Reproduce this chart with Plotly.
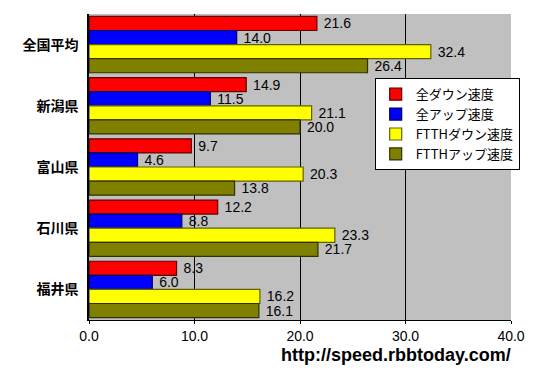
import plotly.graph_objects as go

categories = ["全国平均", "新潟県", "富山県", "石川県", "福井県"]
series_names = ["全ダウン速度", "全アップ速度", "FTTHダウン速度", "FTTHアップ速度"]
all_down = [21.6, 14.9, 9.7, 12.2, 8.3]
all_up = [14.0, 11.5, 4.6, 8.8, 6.0]
ftth_down = [32.4, 21.1, 20.3, 23.3, 16.2]
ftth_up = [26.4, 20.0, 13.8, 21.7, 16.1]
x_ticks = [0, 10, 20, 30, 40]
x_tick_labels = ["0.0", "10.0", "20.0", "30.0", "40.0"]

colors = ["#FF0000", "#0000FF", "#FFFF00", "#808000"]
edge = ["#600000", "#000060", "#606000", "#303000"]
values = [all_down, all_up, ftth_down, ftth_up]

fig = go.Figure()
for name, vals, c, e in zip(series_names, values, colors, edge):
    fig.add_trace(go.Bar(
        y=categories, x=vals, name=name, orientation="h",
        marker=dict(color=c, line=dict(color=e, width=1.2)),
        text=[f"\u00a0{v:.1f}" for v in vals], textposition="outside",
        constraintext="none",
        textfont=dict(family="Liberation Sans, Arial", size=14, color="black"),
        cliponaxis=False, hoverinfo="skip",
    ))

fig.update_layout(
    width=550, height=370,
    margin=dict(l=89, r=39, t=14, b=50, autoexpand=False),
    barmode="group", bargap=0.08, bargroupgap=0,
    paper_bgcolor="white", plot_bgcolor="#C0C0C0",
    showlegend=True,
    legend=dict(
        x=0.677, y=0.79, xanchor="left", yanchor="top",
        bgcolor="white", bordercolor="black", borderwidth=1,
        font=dict(family="Noto Sans CJK JP", size=13, color="black"),
        traceorder="normal", tracegroupgap=0, itemwidth=30,
    ),
    xaxis=dict(
        range=[0, 40], tickvals=x_ticks, ticktext=x_tick_labels,
        showgrid=True, gridcolor="black", gridwidth=1,
        showline=True, linecolor="black", linewidth=1, mirror=False,
        zeroline=False, ticks="outside", ticklen=3, tickcolor="black",
        automargin=False,
        tickfont=dict(family="Liberation Sans, Arial", size=14, color="black"),
    ),
    yaxis=dict(
        autorange="reversed", showline=True, linecolor="black", linewidth=1.5,
        ticks="", ticklabelstandoff=6, automargin=False,
        tickfont=dict(family="Noto Sans CJK JP", size=14, color="black", weight="bold"),
    ),
    annotations=[dict(
        text="<b>http://speed.rbbtoday.com/</b>", xref="paper", yref="paper",
        x=1.005, y=-0.114, xanchor="right", yanchor="middle", showarrow=False,
        font=dict(family="Liberation Sans, Arial", size=18, color="black"),
    )],
)

fig.write_html("out.html", config={"displayModeBar": False},
               post_script="document.body.style.margin='0';")
